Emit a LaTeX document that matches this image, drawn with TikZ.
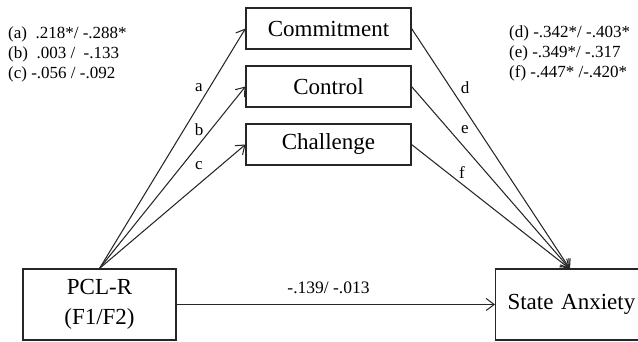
\documentclass[tikz,border=0pt]{standalone}
\usepackage{fontspec}
\setmainfont{Liberation Serif}
\usetikzlibrary{arrows.meta}
\begin{document}
\begin{tikzpicture}[x=1pt,y=-1pt,
  box/.style={draw=black!85,line width=1.1pt,inner sep=0pt,font=\fontsize{23}{27}\selectfont},
  conn/.style={draw=black!85,line width=1.05pt,-{Straight Barb[length=8pt,width=12pt,line width=1.05pt]}},
  lbl/.style={font=\fontsize{17}{20}\selectfont,inner sep=0pt},
  coef/.style={font=\fontsize{17}{20}\selectfont,inner sep=0pt,align=left}]
\useasboundingbox (0,0) rectangle (638,342);
\clip (0,0) rectangle (638,342);
\node[box,minimum width=165pt,minimum height=41pt] (com) at (328.5,28.5) {Commitment};
\node[box,minimum width=165pt,minimum height=41pt] (con) at (328.5,86.5) {Control};
\node[box,minimum width=165pt,minimum height=41pt] (cha) at (328.5,144.5) {Challenge};
\node[box,minimum width=153pt,minimum height=71pt,align=center] (pcl) at (99.5,304.5) {PCL-R\\[3pt](F1/F2)};
\node[box,minimum height=71pt,anchor=west,text width=150pt,align=left,inner xsep=12pt] (sa) at (495,304.5) {State Anxiety};
\coordinate (sat) at (570,269);
\draw[conn] (pcl.north) -- (com.west);
\draw[conn] (pcl.north) -- (con.west);
\draw[conn] (pcl.north) -- (cha.west);
\draw[conn] (com.east) -- (sat);
\draw[conn] (con.east) -- (sat);
\draw[conn] (cha.east) -- (sat);
\draw[conn] (pcl.east) -- (sa.west);
\node[lbl] (la) at (199,88) {a};
\node[lbl] (lb) at (199,130) {b};
\node[lbl] (lc) at (199,166) {c};
\node[lbl] (ld) at (465,88) {d};
\node[lbl] (le) at (465,130) {e};
\node[lbl] (lf) at (462,173) {f};
\node[coef,anchor=west] (left) at (8,54) {(a)~~.218*/ -.288*\\(b)~~.003 /~~-.133\\(c) -.056 / -.092};
\node[coef,anchor=west] (right) at (509,53) {(d) -.342*/ -.403*\\(e) -.349*/ -.317\\(f) -.447* /-.420*};
\node[font=\fontsize{17.5}{20}\selectfont,inner sep=0pt] (mid) at (328.5,288) {-.139/ -.013};
\end{tikzpicture}
\end{document}
